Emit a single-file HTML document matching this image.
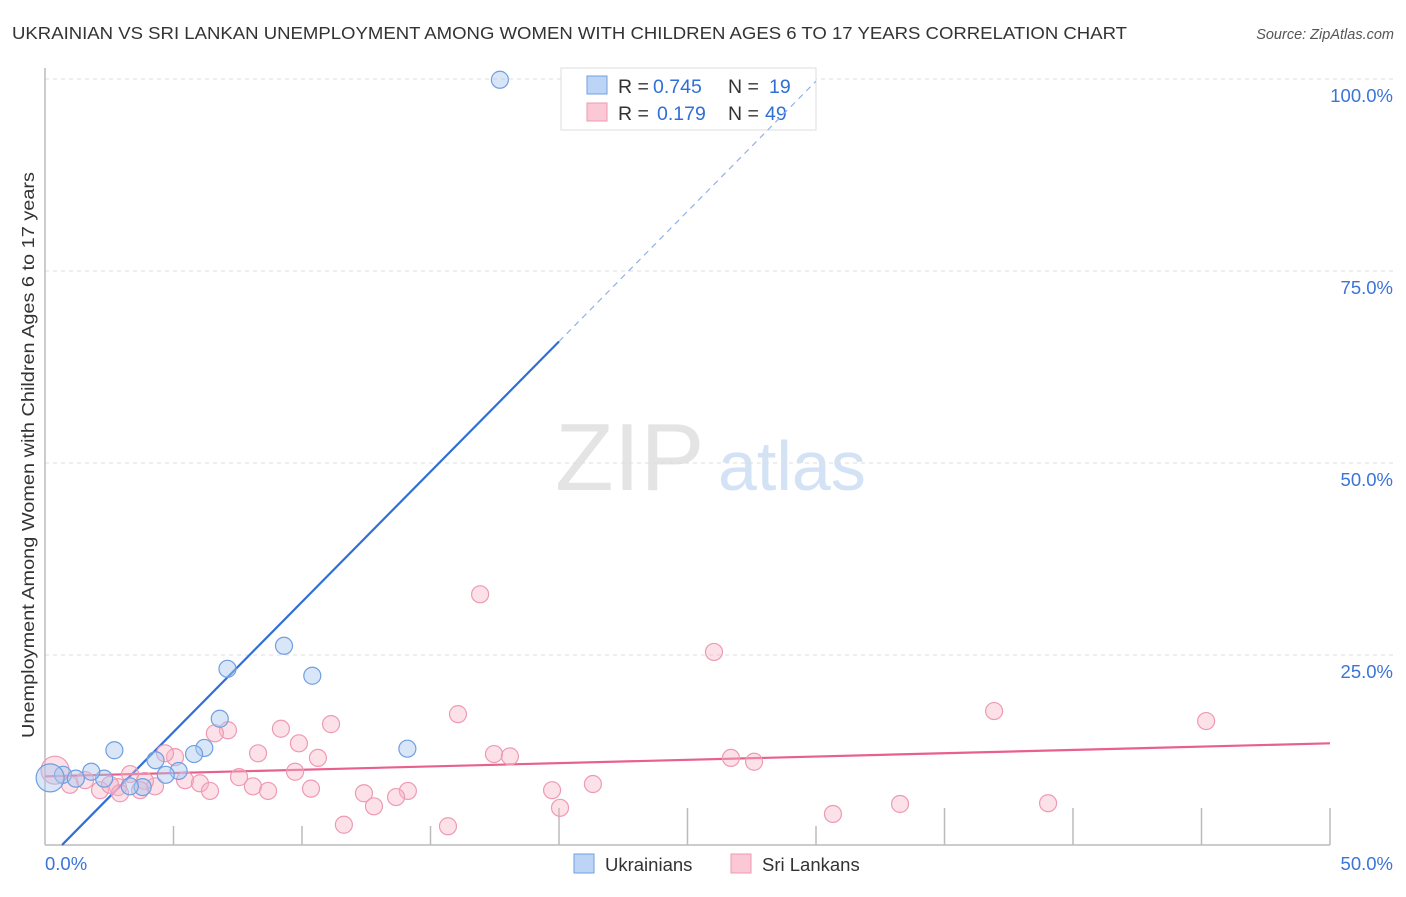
<!DOCTYPE html>
<html><head><meta charset="utf-8"><style>
body{margin:0;background:#fff;font-family:"Liberation Sans",sans-serif;}
svg text{font-family:"Liberation Sans",sans-serif;}
</style></head><body>
<svg id="chart" width="1406" height="892" xmlns="http://www.w3.org/2000/svg">
<text x="12" y="39" font-size="17.5" fill="#333" textLength="1115" lengthAdjust="spacingAndGlyphs">UKRAINIAN VS SRI LANKAN UNEMPLOYMENT AMONG WOMEN WITH CHILDREN AGES 6 TO 17 YEARS CORRELATION CHART</text>
<text x="1394" y="39" font-size="14.5" fill="#555" font-style="italic" text-anchor="end">Source: ZipAtlas.com</text>
<g>
<text x="555" y="490" font-size="96" fill="#e4e4e4" font-family="Liberation Serif, serif">ZIP</text>
<text x="718" y="490" font-size="70" fill="#d3e2f4">atlas</text>
</g>
<g id="grid"></g>
<g id="axes"></g>
<g>
<rect x="561" y="68" width="255" height="62" fill="#fff" stroke="#ddd"/>
<rect x="587" y="76" width="20" height="18" fill="#bcd4f5" stroke="#6f9fe0"/>
<rect x="587" y="103" width="20" height="18" fill="#fbc8d6" stroke="#ee9ab3"/>
<text x="618" y="93" font-size="19.5" fill="#333">R = <tspan x="653" fill="#2f6fd6">0.745</tspan><tspan x="728">N = </tspan><tspan x="769" fill="#2f6fd6">19</tspan></text>
<text x="618" y="120" font-size="19.5" fill="#333">R = <tspan x="657" fill="#2f6fd6">0.179</tspan><tspan x="728">N = </tspan><tspan x="765" fill="#2f6fd6">49</tspan></text>
</g>
<g id="trends"></g>
<g id="pts"></g>
<text transform="translate(34,455) rotate(-90)" font-size="17.5" fill="#333" text-anchor="middle" textLength="566" lengthAdjust="spacingAndGlyphs">Unemployment Among Women with Children Ages 6 to 17 years</text>
<g>
<rect x="574" y="854" width="20" height="19" fill="#bcd4f5" stroke="#6f9fe0"/>
<text x="605" y="871" font-size="18.5" fill="#333">Ukrainians</text>
<rect x="731" y="854" width="20" height="19" fill="#fbc8d6" stroke="#ee9ab3"/>
<text x="762" y="871" font-size="18.5" fill="#333">Sri Lankans</text>
</g>
</svg>
<script>
const yTicks=[25,50,75,100];
const yTickLabels=["25.0%","50.0%","75.0%","100.0%"];
const xTickValues=[0,5,10,15,20,25,30,35,40,45,50];
const ukrX=[17.7,9.3,10.4,7.1,6.8,2.7,6.2,5.8,4.3,14.1,5.2,4.7,3.8,3.3,2.3,1.8,0.7,0.2,1.2];
const ukrY=[99.9,26.2,22.3,23.2,16.7,12.6,12.9,12.1,11.3,12.8,9.9,9.4,7.8,7.9,8.9,9.8,9.4,9.0,8.9];
const sriX=[16.93,26.03,36.93,45.18,16.07,11.13,9.18,7.12,6.61,9.88,17.47,18.09,26.69,27.59,10.62,8.29,5.06,4.67,7.55,9.73,3.31,5.45,6.03,8.09,6.42,8.68,10.35,14.12,19.73,21.32,12.41,13.66,12.80,20.04,33.27,39.03,30.66,11.63,15.68,4.28,3.89,2.84,2.14,0.97,0.39,1.56,2.53,3.70,2.92];
const sriY=[32.9,25.4,17.7,16.4,17.3,16.0,15.4,15.2,14.8,13.5,12.1,11.8,11.6,11.1,11.6,12.2,11.7,12.2,9.1,9.8,9.5,8.7,8.3,7.9,7.3,7.3,7.6,7.3,7.4,8.2,7.0,6.5,5.3,5.1,5.6,5.7,4.3,2.9,2.7,7.9,8.6,7.8,7.4,8.1,10.0,8.7,8.1,7.4,7.0];
const ukrTrend=[-1.98,3.39]; // intercept, slope
const sriTrend=[9.2,0.086];
const ukrSolidEnd=20.0, ukrDashEnd=30.0;

const NS="http://www.w3.org/2000/svg";
const X=v=>45+v*25.7;
const Y=v=>847-v*7.68;
function mk(tag,attrs,parent){const e=document.createElementNS(NS,tag);for(const k in attrs)e.setAttribute(k,attrs[k]);document.getElementById(parent).appendChild(e);return e;}
yTicks.forEach((t,i)=>{
 const g=mk('line',{x1:45,x2:1395,y1:Y(t),y2:Y(t),stroke:'#ddd','stroke-dasharray':'4,4'},'grid');
 
 
 const l=mk('text',{x:1393,y:Y(t)+23,'font-size':18.5,fill:'#3b74d8','text-anchor':'end'},'axes');
 l.textContent=yTickLabels[i];
 
 
});
const xa=mk('line',{x1:45,x2:1330,y1:845,y2:845,stroke:'#bbb','stroke-width':1.5},'axes');


const ya=mk('line',{x1:45,x2:45,y1:68,y2:845,stroke:'#bbb','stroke-width':1.5},'axes');


const shortT=[5,10,15,30];
xTickValues.forEach(t=>{if(t===0)return;
 const tk=mk('line',{x1:X(t),x2:X(t),y1:shortT.includes(t)?826:808,y2:845,stroke:'#bbb','stroke-width':1.5},'axes');
 
 
});
const xl0=mk('text',{x:45,y:870,'font-size':18.5,fill:'#3b74d8'},'axes');xl0.textContent='0.0%';


const xl1=mk('text',{x:1393,y:870,'font-size':18.5,fill:'#3b74d8','text-anchor':'end'},'axes');xl1.textContent='50.0%';



sriX.forEach((x,i)=>{
 const c=mk('circle',{cx:X(x),cy:Y(sriY[i]),r:(i===44?14:8.5),fill:'rgba(248,180,200,0.4)',stroke:'#ee9ab3','stroke-width':1.2},'pts');
 
 
});
ukrX.forEach((x,i)=>{
 const c=mk('circle',{cx:X(x),cy:Y(ukrY[i]),r:(i===17?14:8.5),fill:'rgba(170,200,240,0.45)',stroke:'#6f9fe0','stroke-width':1.2},'pts');
 
 
});
const x0=-ukrTrend[0]/ukrTrend[1];
const u1=mk('line',{x1:X(x0+0.08),y1:Y(ukrTrend[0]+ukrTrend[1]*(x0+0.08)),x2:X(ukrSolidEnd),y2:Y(ukrTrend[0]+ukrTrend[1]*ukrSolidEnd),stroke:'#2f6fd6','stroke-width':2.2},'trends');


const u2=mk('line',{x1:X(ukrSolidEnd),y1:Y(ukrTrend[0]+ukrTrend[1]*ukrSolidEnd),x2:X(ukrDashEnd),y2:Y(ukrTrend[0]+ukrTrend[1]*ukrDashEnd),stroke:'#8fb2e8','stroke-width':1.2,'stroke-dasharray':'6,5'},'trends');


const s1=mk('line',{x1:X(0),y1:Y(sriTrend[0]),x2:X(50),y2:Y(sriTrend[0]+sriTrend[1]*50),stroke:'#e8608e','stroke-width':2.2},'trends');


</script>
</body></html>
